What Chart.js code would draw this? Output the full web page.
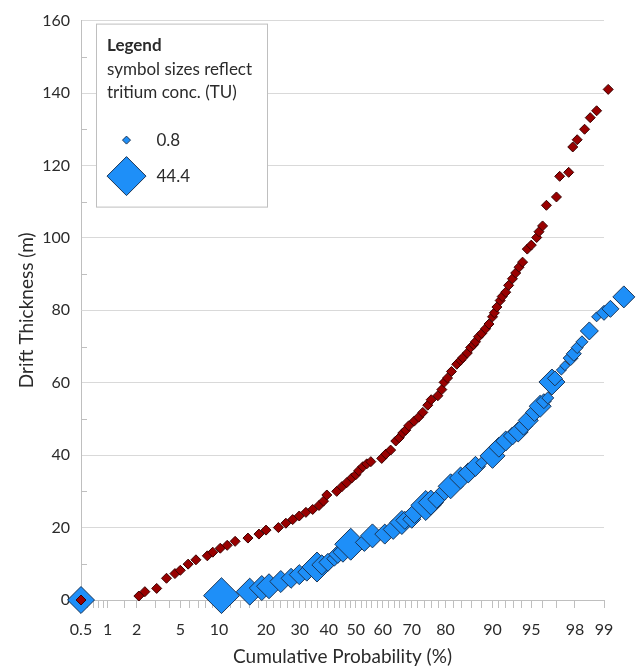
<!DOCTYPE html>
<html>
<head>
<meta charset="utf-8">
<title>Drift thickness probability plot</title>
<script src="https://cdn.jsdelivr.net/npm/chart.js@4.4.1/dist/chart.umd.min.js"></script>
<style>
  html, body { margin: 0; padding: 0; background: #ffffff; }
  #wrap { width: 640px; height: 668px; position: relative; }
</style>
</head>
<body>
<div id="wrap"><canvas id="chart" width="640" height="668"></canvas></div>
<script>
// ---- Data -------------------------------------------------------------
// Wells without tritium sample: cumulative probability (%) and drift thickness (m)
const redProb = [0.5, 2.1, 2.4, 3.1, 3.8, 4.5, 5.0, 5.8, 6.7, 8.2,
  9.0, 10.2, 11.4, 12.9, 15.6, 18.2, 20.0, 23.4, 25.6, 27.7,
  29.8, 32.0, 34.3, 36.5, 38.1, 39.3, 42.9, 44.8, 46.6, 48.5,
  50.0, 51.1, 52.6, 54.1, 55.6, 59.6, 61.1, 62.8, 64.6, 65.8,
  67.0, 68.0, 69.0, 70.8, 72.2, 73.5, 75.0, 76.0, 77.9, 79.0,
  79.6, 80.5, 81.5, 82.8, 83.7, 84.2, 85.2, 85.9, 86.5, 86.9,
  87.5, 88.1, 88.8, 89.4, 90.0, 90.3, 90.7, 91.2, 91.5, 92.0,
  92.4, 92.9, 93.3, 93.7, 94.1, 94.6, 95.0, 95.5, 95.7, 96.0,
  96.3, 97.0, 97.2, 97.7, 97.9, 98.1, 98.4, 98.6, 98.8, 99.1];
const redDepth = [0, 1.1, 2.3, 3.2, 6.0, 7.3, 8.2, 9.9, 11.1, 12.2,
  13.2, 14.3, 15.1, 16.2, 17.1, 18.2, 19.3, 20.0, 21.2, 22.2,
  23.2, 24.2, 25.0, 26.1, 27.3, 29.0, 30.0, 31.3, 32.4, 33.7,
  34.6, 35.7, 36.8, 37.6, 38.2, 39.1, 40.3, 41.4, 43.9, 44.8,
  46.1, 46.9, 48.1, 49.4, 50.5, 51.8, 53.8, 55.3, 56.4, 58.1,
  60.1, 61.3, 63.1, 65.1, 66.2, 66.9, 68.2, 69.7, 70.5, 71.3,
  72.7, 73.6, 74.9, 76.2, 78.2, 79.3, 80.9, 82.7, 83.8, 85.0,
  86.9, 88.7, 90.3, 91.9, 93.3, 96.9, 98.0, 100.1, 101.7, 103.3,
  109.0, 111.3, 117.0, 118.1, 125.1, 127.1, 130.0, 133.2, 135.1, 141.0];

// Wells with tritium: cumulative probability (%), drift thickness (m), tritium (TU)
const blueProb = [0.5, 10.4, 16.0, 18.9, 20.8, 24.1, 27.2, 29.8, 32.3, 35.8,
  37.5, 39.7, 42.0, 43.3, 45.2, 48.1, 53.2, 56.2, 60.7, 63.7,
  66.7, 67.7, 70.0, 70.9, 74.4, 75.9, 77.6, 79.7, 81.3, 83.7,
  85.4, 86.9, 88.1, 90.0, 91.0, 92.0, 92.9, 93.6, 94.2, 94.7,
  95.3, 95.8, 96.1, 96.4, 96.7, 96.9, 97.3, 97.5, 97.8, 97.95,
  98.1, 98.3, 98.57, 98.8, 99.0, 99.15, 99.4];
const blueDepth = [0, 1.2, 2.3, 3.3, 3.8, 5.1, 6.0, 7.0, 7.7, 9.1,
  9.7, 10.4, 11.4, 12.6, 13.2, 15.4, 15.9, 17.7, 18.2, 19.5,
  21.4, 22.0, 22.3, 23.9, 26.1, 26.9, 27.8, 30.0, 31.4, 33.7,
  35.1, 36.9, 37.9, 39.8, 42.2, 43.9, 45.3, 46.4, 48.0, 49.6,
  51.8, 53.5, 54.9, 55.8, 60.2, 61.2, 63.5, 64.7, 66.8, 68.0,
  69.7, 71.3, 74.3, 78.2, 79.3, 80.4, 83.7];
const blueTU = [27.5, 40.0, 27.5, 24.7, 24.7, 20.5, 17.7, 17.7, 14.9, 31.7,
  17.7, 14.9, 10.6, 14.9, 17.7, 34.5, 14.9, 23.3, 17.7, 17.7,
  23.3, 14.9, 14.9, 17.7, 31.7, 24.7, 14.9, 14.9, 24.7, 20.5,
  17.7, 17.7, 6.4, 24.7, 17.7, 17.7, 14.9, 17.7, 14.9, 17.7,
  14.9, 20.5, 10.6, 6.4, 26.1, 10.6, 3.6, 3.6, 10.6, 10.6,
  6.4, 6.4, 14.9, 3.6, 10.6, 13.5, 20.5];

// Legend reference sizes (TU)
const legendTU = [0.8, 44.4];

// Probability axis: tick marks and labelled ticks (%)
const xTickPct = [0.5, 0.6, 0.7, 0.8, 0.9, 1, 1.5, 2, 3, 4, 5, 6, 7, 8, 9, 10,
  12, 14, 16, 18, 20, 22, 24, 26, 28, 30, 32, 34, 36, 38, 40, 42, 44, 46, 48, 50,
  52, 54, 56, 58, 60, 62, 64, 66, 68, 70, 72, 74, 76, 78, 80, 82, 84, 86, 88, 90,
  91, 92, 93, 94, 95, 96, 97, 98, 99];
const xLabelPct = [0.5, 1, 2, 5, 10, 20, 30, 40, 50, 60, 70, 80, 90, 95, 98, 99];
const xRangePct = [0.5, 99];
const yMinorTicks = [10, 30, 50, 70, 90, 110, 130, 150];

// ---- Helpers ----------------------------------------------------------
// Inverse standard normal CDF (Acklam's approximation)
function probit(p) {
  const a = [-3.969683028665376e+01, 2.209460984245205e+02, -2.759285104469687e+02,
             1.383577518672690e+02, -3.066479806614716e+01, 2.506628277459239e+00];
  const b = [-5.447609879822406e+01, 1.615858368580409e+02, -1.556989798598866e+02,
             6.680131188771972e+01, -1.328068155288572e+01];
  const c = [-7.784894002430293e-03, -3.223964580411365e-01, -2.400758277161838e+00,
             -2.549732539343734e+00, 4.374664141464968e+00, 2.938163982698783e+00];
  const d = [7.784695709041462e-03, 3.224671290700398e-01, 2.445134137142996e+00,
             3.754408661907416e+00];
  const pl = 0.02425, ph = 1 - pl;
  let q, r;
  if (p < pl) {
    q = Math.sqrt(-2 * Math.log(p));
    return (((((c[0]*q + c[1])*q + c[2])*q + c[3])*q + c[4])*q + c[5]) /
           ((((d[0]*q + d[1])*q + d[2])*q + d[3])*q + 1);
  }
  if (p <= ph) {
    q = p - 0.5; r = q * q;
    return (((((a[0]*r + a[1])*r + a[2])*r + a[3])*r + a[4])*r + a[5]) * q /
           (((((b[0]*r + b[1])*r + b[2])*r + b[3])*r + b[4])*r + 1);
  }
  q = Math.sqrt(-2 * Math.log(1 - p));
  return -(((((c[0]*q + c[1])*q + c[2])*q + c[3])*q + c[4])*q + c[5]) /
          ((((d[0]*q + d[1])*q + d[2])*q + d[3])*q + 1);
}
const zOf = pct => probit(pct / 100);

// Symbol size scales with tritium concentration
const R_SMALL = 4, R_LARGE = 19.5;
const radiusFor = tu => R_SMALL + (tu - legendTU[0]) * (R_LARGE - R_SMALL) / (legendTU[1] - legendTU[0]);

const BLUE_FILL = '#1e8ff8', BLUE_EDGE = '#1b3556';
const RED_FILL = '#990000', RED_EDGE = '#3a0000';
const TEXT = '#2b2b2b';
const FONT = 'Lato, "Open Sans", sans-serif';

// ---- Plugins ----------------------------------------------------------
const yMinorTickPlugin = {
  id: 'yMinorTicks',
  beforeDatasetsDraw(chart) {
    const { ctx, chartArea, scales } = chart;
    ctx.save();
    ctx.strokeStyle = '#bfbfbf';
    ctx.lineWidth = 1;
    ctx.beginPath();
    yMinorTicks.forEach(v => {
      const y = Math.round(scales.y.getPixelForValue(v)) + 0.5;
      ctx.moveTo(chartArea.left, y);
      ctx.lineTo(chartArea.left + 6, y);
    });
    ctx.stroke();
    ctx.restore();
  }
};

// Markers may sit past the 99 % edge: widen the drawable area while datasets are painted
const overhangPlugin = {
  id: 'overhang',
  beforeDatasetsDraw(chart) {
    this._area = chart.chartArea;
    chart.chartArea = Object.assign({}, chart.chartArea, { right: chart.width, left: 0, top: 0, bottom: chart.height });
  },
  afterDatasetsDraw(chart) {
    if (this._area) chart.chartArea = this._area;
  }
};

const sizeLegendPlugin = {
  id: 'sizeLegend',
  afterDraw(chart) {
    const { ctx, chartArea } = chart;
    const x0 = chartArea.left + 15.5, y0 = chartArea.top + 3.5;
    const w = 171, h = 183;
    ctx.save();
    ctx.fillStyle = '#ffffff';
    ctx.strokeStyle = '#bfbfbf';
    ctx.lineWidth = 1;
    ctx.fillRect(x0, y0, w, h);
    ctx.strokeRect(x0, y0, w, h);

    ctx.fillStyle = TEXT;
    ctx.textBaseline = 'middle';
    ctx.textAlign = 'left';
    const tx = x0 + 10.5;
    ctx.font = 'bold 17px ' + FONT;
    ctx.fillText('Legend', tx, y0 + 21);
    ctx.font = '17px ' + FONT;
    ctx.fillText('symbol sizes reflect', tx, y0 + 45);
    ctx.fillText('tritium conc. (TU)', tx, y0 + 68);

    const rowsY = [y0 + 116, y0 + 152];
    legendTU.forEach((tu, i) => {
      ctx.fillStyle = BLUE_FILL;
      ctx.strokeStyle = BLUE_EDGE;
      ctx.lineWidth = 1;
      Chart.helpers.drawPoint(ctx, { pointStyle: 'rectRot', radius: radiusFor(tu), borderWidth: 1 },
        x0 + 30, rowsY[i]);
      ctx.fillStyle = TEXT;
      ctx.font = '17px ' + FONT;
      ctx.fillText(String(tu), x0 + 60, rowsY[i]);
    });
    ctx.restore();
  }
};

// ---- Chart ------------------------------------------------------------
const redPoints = redProb.map((p, i) => ({ x: zOf(p), y: redDepth[i] }));
const bluePoints = blueProb.map((p, i) => ({ x: zOf(p), y: blueDepth[i] }));

// Axis range is set after data limits so that points just beyond 99 % are still drawn
const setProbRange = scale => {
  scale.min = zOf(xRangePct[0]);
  scale.max = zOf(xRangePct[1]);
};

new Chart(document.getElementById('chart'), {
  type: 'scatter',
  data: {
    datasets: [
      {
        label: 'No tritium',
        data: redPoints,
        pointStyle: 'rectRot',
        pointRadius: 5,
        pointBackgroundColor: RED_FILL,
        pointBorderColor: RED_EDGE,
        pointBorderWidth: 1,
        clip: false,
        order: 0
      },
      {
        label: 'Tritium',
        data: bluePoints,
        pointStyle: 'rectRot',
        pointRadius: blueTU.map(radiusFor),
        pointBackgroundColor: BLUE_FILL,
        pointBorderColor: BLUE_EDGE,
        pointBorderWidth: 1,
        clip: false,
        order: 1
      }
    ]
  },
  options: {
    responsive: false,
    animation: false,
    events: [],
    layout: { padding: { left: 0, right: 36, top: 17, bottom: 0 } },
    plugins: {
      legend: { display: false },
      tooltip: { enabled: false }
    },
    scales: {
      x: {
        type: 'linear',
        bounds: 'data',
        afterDataLimits: setProbRange,
        afterBuildTicks: scale => {
          setProbRange(scale);
          scale.ticks = xTickPct.map(p => ({ value: zOf(p) }));
        },
        afterFit: scale => { scale.height = 68; },
        ticks: {
          autoSkip: false,
          maxRotation: 0,
          minRotation: 0,
          padding: 12,
          color: TEXT,
          font: { family: FONT, size: 16 },
          callback: (value, index) => xLabelPct.includes(xTickPct[index]) ? String(xTickPct[index]) : ''
        },
        grid: { drawOnChartArea: false, drawTicks: true, tickLength: 8, color: '#bfbfbf' },
        border: { display: true, color: '#bfbfbf' },
        title: {
          display: true,
          text: 'Cumulative Probability (%)',
          color: TEXT,
          font: { family: FONT, size: 19 },
          padding: { top: 0, bottom: 0 }
        }
      },
      y: {
        min: 0,
        max: 160,
        afterFit: scale => { scale.width = 81; },
        ticks: {
          stepSize: 20,
          padding: 11,
          color: TEXT,
          font: { family: FONT, size: 16 }
        },
        grid: { color: '#d9d9d9', drawTicks: false },
        border: { display: true, color: '#bfbfbf' },
        title: {
          display: true,
          text: 'Drift Thickness (m)',
          color: TEXT,
          font: { family: FONT, size: 19 },
          padding: { top: 15, bottom: 0 }
        }
      }
    }
  },
  plugins: [yMinorTickPlugin, overhangPlugin, sizeLegendPlugin]
});
</script>
</body>
</html>
